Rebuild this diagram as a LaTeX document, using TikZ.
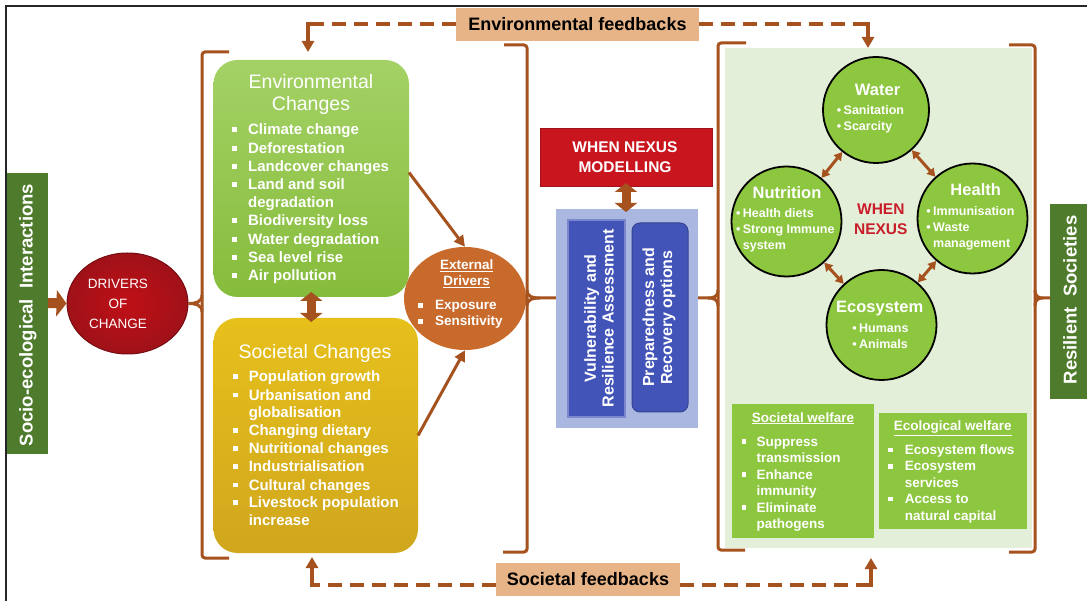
\documentclass[tikz,border=0pt]{standalone}
\usepackage{fontspec}
\setmainfont{Liberation Sans}
\usetikzlibrary{arrows.meta,positioning,shapes.geometric}
\definecolor{brn}{HTML}{A5521E}
\definecolor{leaf}{HTML}{8DC63F}
\definecolor{socy}{HTML}{E2B520}
\definecolor{drvr}{HTML}{B5131B}
\definecolor{extd}{HTML}{C86A2C}
\definecolor{fbtan}{HTML}{E6B487}
\definecolor{dkg}{HTML}{4F7B2C}
\definecolor{pale}{HTML}{E3EFD9}
\definecolor{lblue}{HTML}{A9B7E1}
\definecolor{dblue}{HTML}{4354B8}
\definecolor{modr}{HTML}{C9161E}
\definecolor{nexr}{HTML}{C91E2A}
\newcommand{\fsz}[2]{\fontsize{#1}{#2}\selectfont}
\newcommand{\sqb}{\raisebox{0.17em}{\rule{0.33em}{0.33em}}}
\newcommand{\blist}[2]{\begin{tabular}[t]{@{}l@{\hspace{#1}}l@{}}#2\end{tabular}}
\newcommand{\clist}[1]{\begin{tabular}[t]{@{}l@{\hspace{2.5pt}}l@{}}#1\end{tabular}}
\newcommand{\ttl}[1]{\begin{tabular}[t]{@{}c@{}}#1\end{tabular}}

\begin{document}
\begin{tikzpicture}[x=1pt,y=-1pt,
  box/.style={inner sep=0pt,outer sep=0pt},
  wt/.style={inner sep=0pt,text=white},
  brk/.style={brn,line width=3pt,rounded corners=3pt},
  fbdash/.style={brn,line width=4pt,dash pattern=on 14pt off 8pt},
  fbtip/.style={brn,line width=4pt,-{Triangle[length=11pt,width=12pt]}},
  thinarr/.style={brn,line width=3pt,-{Triangle[length=11pt,width=11pt]}},
  fatarr/.style={brn,line width=9pt,{Triangle[length=9pt,width=22pt]}-{Triangle[length=9pt,width=22pt]}},
  cirarr/.style={brn,line width=3pt,{Triangle[length=8pt,width=9pt]}-{Triangle[length=8pt,width=9pt]}},
  nex/.style={circle,draw=black,line width=1.8pt,fill=leaf,inner sep=0pt}]
  \useasboundingbox (0,0) rectangle (1087,601);

  % Frame
  \draw[line width=1.5pt,black!85] (6,601) -- (6,6) -- (1087,6);

  % Feedback labels
  \node[box,fill=fbtan,minimum width=243pt,minimum height=33pt,font={\fsz{18}{20}\bfseries}] (envfb) at (577.5,24.5) {Environmental feedbacks};
  \node[box,fill=fbtan,minimum width=184pt,minimum height=33pt,font={\fsz{18}{20}\bfseries}] (socfb) at (588,579.5) {Societal feedbacks};

  % Side boxes
  \node[box,fill=dkg,minimum width=41pt,minimum height=281pt] (socio) at (27.5,313.5) {};
  \node[wt,rotate=90,font={\fsz{18.5}{20}\bfseries}] (sociot) at (28,315) {Socio-ecological\ \ Interactions};
  \node[box,fill=dkg,minimum width=40pt,minimum height=195pt] (resil) at (1070,301.5) {};
  \node[wt,rotate=90,font={\fsz{18.5}{20}\bfseries}] (resilt) at (1070,300) {Resilient\ \ Societies};

  % Drivers of change
  \node[ellipse,inner sep=0pt,inner color=drvr!85!red,outer color=drvr!88!black,draw=drvr!65!black,line width=1pt,minimum width=121pt,minimum height=101pt] (drivers) at (127.5,303.5) {};
  \node[wt,align=center,font={\fsz{13.5}{20}}] (driverst) at (118,303.5) {DRIVERS\\OF\\CHANGE};
  \draw[brn,line width=10pt,-{Triangle[length=10pt,width=26pt]}] ([yshift=10.5pt]socio.east) -- (drivers.west);

  % Left bracket
  \draw[brk] (229,52) -- (202,52) -- (202,558) -- (229,558);
  \draw[brn,line width=3pt] (202,295) .. controls (202,302) and (196,303.5) .. (drivers.east)
    .. controls (196,303.5) and (202,305) .. (202,312);

  % Environmental changes
  \node[box,rounded corners=24pt,top color=leaf!80!white,bottom color=leaf!95!black,minimum width=195.5pt,minimum height=237pt] (envbox) at (311.25,178.5) {};
  \node[wt,anchor=base,font={\fsz{19.5}{22}}] (envttl) at (311,88.5) {\ttl{Environmental\\Changes}};
  \node[wt,anchor=base west,font={\fsz{15}{18.2}\bfseries}] (envlst) at (231.5,135) {\blist{11.5pt}{%
    \sqb & Climate change\\ \sqb & Deforestation\\ \sqb & Landcover changes\\
    \sqb & Land and soil\\ & degradation\\ \sqb & Biodiversity loss\\
    \sqb & Water degradation\\ \sqb & Sea level rise\\ \sqb & Air pollution}};

  % Societal changes
  \node[box,rounded corners=24pt,top color=socy!85!yellow,bottom color=socy!92!black,minimum width=204.5pt,minimum height=235pt] (socbox) at (315.75,435.5) {};
  \node[wt,anchor=base,font={\fsz{19.5}{22}}] (socttl) at (315,358.5) {Societal Changes};
  \node[wt,anchor=base west,font={\fsz{15}{18}\bfseries}] (soclst) at (232.7,382) {\blist{10.9pt}{%
    \sqb & Population growth\\ \sqb & Urbanisation and\\ & globalisation\\
    \sqb & Changing dietary\\ \sqb & Nutritional changes\\ \sqb & Industrialisation\\
    \sqb & Cultural changes\\ \sqb & Livestock population\\ & increase}};
  \draw[fatarr] ([yshift=5pt]envbox.south) -- ([yshift=-4pt]envbox.south |- socbox.north);

  % External drivers
  \node[ellipse,inner sep=0pt,fill=extd,minimum width=122pt,minimum height=103pt] (ext) at (465,298.5) {};
  \node[wt,anchor=base,font={\fsz{13.5}{16}\bfseries}] (extttl) at (466.7,269.8) {\ttl{\underline{External}\\\underline{Drivers}}};
  \node[wt,anchor=base west,font={\fsz{13.5}{16}\bfseries}] (extlst) at (418.2,310) {\blist{12.3pt}{\sqb & Exposure\\ \sqb & Sensitivity}};
  \draw[thinarr] ([yshift=6pt]envbox.east) -- (ext.north);
  \draw[thinarr] (socbox.east) -- (ext.south);

  % Middle bracket
  \draw[brk] (504,45) -- (527,45) -- (527,552) -- (503,552);
  \coordinate (mbt) at (556,298);
  \draw[brn,line width=3pt] (527,290) .. controls (527,297) and (533,298) .. (540,298) -- (mbt);
  \draw[brn,line width=3pt] (527,306) .. controls (527,299) and (533,298) .. (540,298);

  % Modelling block
  \node[box,fill=modr,draw=modr!80!black,line width=1pt,minimum width=172pt,minimum height=58pt] (model) at (626,158) {};
  \node[wt,align=center,font={\fsz{15.5}{20}\bfseries}] (modelt) at (625,157) {WHEN NEXUS\\MODELLING};
  \node[box,fill=lblue,minimum width=142pt,minimum height=219pt] (blue) at (627,318.5) {};
  \node[box,fill=dblue,draw=dblue!70!white,line width=1.5pt,minimum width=57pt,minimum height=197pt] (vra) at (596.5,318.5) {};
  \node[box,fill=dblue,draw=dblue!80!black,line width=1pt,rounded corners=8pt,minimum width=56pt,minimum height=189pt] (pro) at (660,317.5) {};
  \node[wt,rotate=90,align=center,font={\fsz{16}{17.7}\bfseries}] (vrat) at (599,318.5) {Vulnerability and\\Resilience Assessment};
  \node[wt,rotate=90,align=center,font={\fsz{16}{18}\bfseries}] (prot) at (659,317.5) {Preparedness and\\Recovery options};
  \draw[fatarr] ([yshift=4pt]model.south) -- ([yshift=-3pt]model.south |- blue.north);

  % Right brackets
  \draw[brk] (746,43) -- (718,43) -- (718,550) -- (745,550);
  \coordinate (rbt) at (698,298);
  \draw[brn,line width=3pt] (718,290) .. controls (718,297) and (713,298) .. (708,298) -- (rbt);
  \draw[brn,line width=3pt] (718,306) .. controls (718,299) and (713,298) .. (708,298);
  \draw[brk] (1009,45) -- (1035,45) -- (1035,552) -- (1009,552);
  \draw[brn,line width=3pt] (1035,290) .. controls (1035,297) and (1039,298) .. (1043,298) -- (resil.west |- mbt);
  \draw[brn,line width=3pt] (1035,306) .. controls (1035,299) and (1039,298) .. (1043,298);

  % Nexus panel
  \node[box,fill=pale,minimum width=307pt,minimum height=500pt] (panel) at (878.5,298) {};
  \node[nex,minimum size=106pt] (water) at (876,110) {};
  \node[nex,minimum size=110pt] (nutri) at (786.5,221.5) {};
  \node[nex,minimum size=110pt] (health) at (972.5,218.5) {};
  \node[nex,minimum size=110pt] (eco) at (881.5,325) {};
  \draw[cirarr] (water) -- (nutri);
  \draw[cirarr] (water) -- (health);
  \draw[cirarr] (nutri) -- (eco);
  \draw[cirarr] (health) -- (eco);

  \node[wt,anchor=base,font={\fsz{16.5}{18}\bfseries}] (watert) at (877.6,95.2) {Water};
  \node[wt,anchor=base west,font={\fsz{12.5}{16}\bfseries}] (waterl) at (836.6,114.5) {\clist{\textbullet & Sanitation\\ \textbullet & Scarcity}};
  \node[wt,anchor=base,font={\fsz{16.5}{18}\bfseries}] (nutrit) at (787,198.2) {Nutrition};
  \node[wt,anchor=base west,font={\fsz{12.5}{16}\bfseries}] (nutril) at (735.8,217.8) {\clist{\textbullet & Health diets\\ \textbullet & Strong Immune\\ & system}};
  \node[wt,anchor=base,font={\fsz{16.5}{18}\bfseries}] (healtht) at (975.7,196) {Health};
  \node[wt,anchor=base west,font={\fsz{12.5}{16}\bfseries}] (healthl) at (926.1,216) {\clist{\textbullet & Immunisation\\ \textbullet & Waste\\ & management}};
  \node[wt,anchor=base,font={\fsz{16.5}{18}\bfseries}] (ecot) at (879.7,312.6) {Ecosystem};
  \node[wt,anchor=base west,font={\fsz{12.5}{16}\bfseries}] (ecol) at (852.1,333) {\clist{\textbullet & Humans\\ \textbullet & Animals}};
  \node[inner sep=0pt,text=nexr,align=center,font={\fsz{15.5}{20}\bfseries}] (nexus) at (880.8,219) {WHEN\\NEXUS};

  % Welfare boxes
  \node[box,fill=leaf,minimum width=142pt,minimum height=134pt] (swel) at (803,471) {};
  \node[box,fill=leaf,minimum width=148pt,minimum height=116pt] (ewel) at (953,471) {};
  \node[wt,anchor=base,font={\fsz{13.5}{16}\bfseries}] (swelt) at (803,422.1) {\underline{Societal welfare}};
  \node[wt,anchor=base west,font={\fsz{13.5}{16.5}\bfseries}] (swell) at (741.5,446.2) {\blist{10.5pt}{%
    \sqb & Suppress\\ & transmission\\ \sqb & Enhance\\ & immunity\\ \sqb & Eliminate\\ & pathogens}};
  \node[wt,anchor=base,font={\fsz{13.5}{16}\bfseries}] (ewelt) at (952.8,430.8) {\underline{Ecological welfare}};
  \node[wt,anchor=base west,font={\fsz{13.5}{16.4}\bfseries}] (ewell) at (888,454.5) {\blist{12.2pt}{%
    \sqb & Ecosystem flows\\ \sqb & Ecosystem\\ & services\\ \sqb & Access to\\ & natural capital}};

  % Feedback connectors
  \coordinate (efl) at (308,24);
  \coordinate (efr) at (868,24);
  \coordinate (sfl) at (312,585);
  \coordinate (sfr) at (871,585);
  \draw[fbdash] (efl -| envfb.west) -- (efl);
  \draw[fbtip] ([yshift=2pt]efl) -- ([yshift=8pt]efl |- envbox.north);
  \draw[fbdash] (efr -| envfb.east) -- (efr);
  \draw[fbtip] ([yshift=2pt]efr) -- (efr |- panel.north);
  \draw[fbdash] (sfl -| socfb.west) -- (sfl);
  \draw[fbtip] ([yshift=-2pt]sfl) -- ([yshift=-4pt]sfl |- socbox.south);
  \draw[fbdash] (sfr -| socfb.east) -- (sfr);
  \draw[fbtip] ([yshift=-2pt]sfr) -- ([yshift=-10pt]sfr |- panel.south);
\end{tikzpicture}
\end{document}
